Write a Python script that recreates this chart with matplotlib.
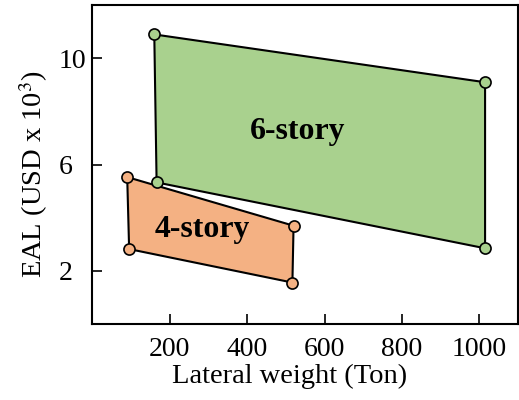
import matplotlib
matplotlib.use("Agg")
import matplotlib.pyplot as plt
from matplotlib.patches import Polygon

plt.rcParams['font.family'] = ['Liberation Serif', 'DejaVu Serif']
plt.rcParams['mathtext.fontset'] = 'stix'

# data
six_x = [160, 1015, 1015, 166]
six_y = [10.9, 9.1, 2.85, 5.33]
four_x = [90, 520, 517, 95]
four_y = [5.53, 3.7, 1.56, 2.82]
labels = ["6-story", "4-story"]
label_pos = [(530, 7.25), (283, 3.55)]
xticks = [200, 400, 600, 800, 1000]
yticks = [2, 6, 10]

green = '#a9d18e'
orange = '#f4b183'

fig = plt.figure(figsize=(5.19, 4.0), dpi=100)
ax = fig.add_axes([0.178, 0.19, 0.82, 0.797])

for xs, ys, c in [(six_x, six_y, green), (four_x, four_y, orange)]:
    poly = Polygon(list(zip(xs, ys)), closed=True, facecolor=c, edgecolor='black', linewidth=1.5, zorder=2)
    ax.add_patch(poly)
    ax.plot(xs, ys, 'o', markersize=8, markerfacecolor=c, markeredgecolor='black', markeredgewidth=1.2, zorder=3, linestyle='none')

for lab, (lx, ly) in zip(labels, label_pos):
    ax.text(lx, ly, lab, fontsize=17 * 1.35, fontweight='bold', ha='center', va='center', zorder=4)

ax.set_xlim(0, 1100)
ax.set_ylim(0, 12)
ax.set_xticks(xticks)
ax.set_yticks(yticks)
ax.tick_params(direction='in', length=7, width=1.2, labelsize=20)
ax.tick_params(axis='x', pad=9)
ax.tick_params(axis='y', pad=24.5)
for t in ax.get_yticklabels():
    t.set_horizontalalignment('left')
for s in ax.spines.values():
    s.set_linewidth(1.5)
ax.set_xlabel('Lateral weight (Ton)', fontsize=20.5, labelpad=2)
ax.set_ylabel('EAL (USD x 10$^3$)', fontsize=20.5, labelpad=6)
ax.xaxis.label.set_x(0.4635)
ax.yaxis.label.set_y(0.469)

fig.savefig('out.png', dpi=100)
